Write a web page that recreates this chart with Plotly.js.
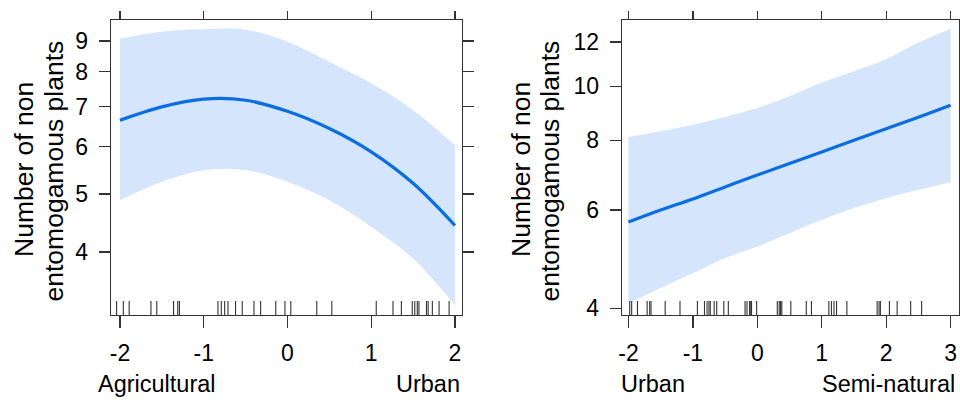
<!DOCTYPE html>
<html><head><meta charset="utf-8">
<script src="https://cdn.plot.ly/plotly-3.0.1.min.js"></script>
<style>html,body{margin:0;padding:0;background:#fff}#plot{width:960px;height:401px}</style>
</head><body><div id="plot"></div>
<script>
// ---- Left panel: Agricultural -> Urban gradient ----
const leftX     = [-2, -1.5, -1, -0.5, 0, 0.5, 1, 1.5, 2];
const leftFit   = [6.64, 6.99, 7.20, 7.17, 6.87, 6.43, 5.88, 5.21, 4.43];
const leftUpper = [9.09, 9.33, 9.42, 9.40, 8.98, 8.31, 7.65, 6.90, 6.03];
const leftLower = [4.88, 5.24, 5.48, 5.48, 5.24, 4.88, 4.41, 3.90, 3.26];
const leftRug = [-2.04,-1.96,-1.89,-1.63,-1.56,-1.36,-1.31,-1.29,-0.83,-0.79,-0.75,-0.71,-0.62,-0.54,-0.40,-0.32,-0.14,-0.03,0.04,0.35,0.53,1.06,1.26,1.36,1.49,1.52,1.55,1.57,1.66,1.68,1.73,1.81,1.93];
const leftXTicks = [-2, -1, 0, 1, 2];
const leftXTickText = ["-2", "-1", "0", "1", "2"];
const leftYTicks = [4, 5, 6, 7, 8, 9];

// ---- Right panel: Urban -> Semi-natural gradient ----
const rightX     = [-2, -1.5, -1, -0.5, 0, 0.5, 1, 1.5, 2, 2.5, 3];
const rightFit   = [5.71, 6.00, 6.28, 6.60, 6.93, 7.27, 7.62, 8.00, 8.39, 8.80, 9.24];
const rightUpper = [8.11, 8.30, 8.53, 8.81, 9.14, 9.59, 10.15, 10.64, 11.17, 11.97, 12.68];
const rightLower = [4.08, 4.35, 4.62, 4.92, 5.16, 5.45, 5.76, 6.05, 6.30, 6.52, 6.73];
const rightRug = [-1.98,-1.95,-1.86,-1.71,-1.67,-1.65,-1.43,-1.20,-0.93,-0.82,-0.78,-0.75,-0.73,-0.67,-0.63,-0.52,-0.45,-0.19,-0.16,-0.12,-0.11,-0.09,-0.01,0.31,0.34,0.36,0.38,0.52,0.76,0.84,1.11,1.15,1.19,1.23,1.39,1.86,1.89,1.91,2.05,2.17,2.38,2.55];
const rightXTicks = [-2, -1, 0, 1, 2, 3];
const rightXTickText = ["-2", "-1", "0", "1", "2", "3"];
const rightYTicks = [4, 6, 8, 10, 12];

const yTitle1 = "Number of non";
const yTitle2 = "entomogamous plants";
const leftLabels = ["Agricultural", "Urban"];
const rightLabels = ["Urban", "Semi-natural"];

const W = 960, H = 401, T = 20, B = 315;
const LINE = "#0a6ee0", BAND = "rgb(213,229,251)", AX = "#333333";
const FONT = "Liberation Sans, Arial, sans-serif";
const px = v => v / W;
const py = v => (B - v) / (B - T);

function band(x, lo, hi, xa, ya) {
  return [
    {x: x, y: lo, xaxis: xa, yaxis: ya, mode: "lines", line: {width: 0, shape: "spline", color: BAND}, hoverinfo: "skip", showlegend: false},
    {x: x, y: hi, xaxis: xa, yaxis: ya, mode: "lines", fill: "tonexty", fillcolor: BAND, line: {width: 0, shape: "spline", color: BAND}, hoverinfo: "skip", showlegend: false}
  ];
}
const data = [
  ...band(leftX, leftLower, leftUpper, "x", "y"),
  {x: leftX, y: leftFit, xaxis: "x", yaxis: "y", mode: "lines", line: {color: LINE, width: 3.2, shape: "spline"}, showlegend: false},
  ...band(rightX, rightLower, rightUpper, "x2", "y2"),
  {x: rightX, y: rightFit, xaxis: "x2", yaxis: "y2", mode: "lines", line: {color: LINE, width: 3.2, shape: "spline"}, showlegend: false},
  // invisible carriers so the top tick axes are drawn
  {x: leftX, y: leftFit, xaxis: "x3", yaxis: "y", mode: "lines", opacity: 0, line: {width: 0}, hoverinfo: "skip", showlegend: false},
  {x: rightX, y: rightFit, xaxis: "x4", yaxis: "y2", mode: "lines", opacity: 0, line: {width: 0}, hoverinfo: "skip", showlegend: false}
];

const shapes = [];
leftRug.forEach(v => shapes.push({type: "line", xref: "x", yref: "paper", x0: v, x1: v, y0: 0, y1: 14/(B-T), line: {color: AX, width: 1.1}}));
rightRug.forEach(v => shapes.push({type: "line", xref: "x2", yref: "paper", x0: v, x1: v, y0: 0, y1: 14/(B-T), line: {color: AX, width: 1.1}}));

const tickFont = {family: FONT, size: 23, color: "#000"};
const baseX = {showgrid: false, zeroline: false, showline: true, mirror: true, linecolor: AX, linewidth: 1.3,
  ticks: "outside", ticklen: 12, tickwidth: 1.3, tickcolor: AX, tickfont: tickFont, tickmode: "array", ticklabelstandoff: 5};
const baseY = {showgrid: false, zeroline: false, showline: true, mirror: "ticks", linecolor: AX, linewidth: 1.3,
  ticks: "outside", ticklen: 11, tickwidth: 1.3, tickcolor: AX, tickfont: tickFont, type: "log", tickmode: "array", ticklabelstandoff: 6};
const topX = {showgrid: false, zeroline: false, showline: false, ticks: "outside", ticklen: 8, tickwidth: 1.3, tickcolor: AX,
  showticklabels: false, side: "top", tickmode: "array"};

const lxr = [-2.107, 2.084], rxr = [-2.10, 3.13];
const layout = {
  width: W, height: H, margin: {l: 0, r: 0, t: T, b: H - B}, paper_bgcolor: "#fff", plot_bgcolor: "#fff",
  showlegend: false,
  xaxis: {...baseX, domain: [px(111), px(462)], range: lxr, tickvals: leftXTicks, ticktext: leftXTickText, anchor: "y"},
  yaxis: {...baseY, domain: [0, 1], range: [Math.log10(3.14), Math.log10(9.76)], tickvals: leftYTicks, ticktext: leftYTicks.map(String), anchor: "x"},
  xaxis2: {...baseX, domain: [px(622), px(959)], range: rxr, tickvals: rightXTicks, ticktext: rightXTickText, anchor: "y2"},
  yaxis2: {...baseY, domain: [0, 1], range: [Math.log10(3.89), Math.log10(13.14)], tickvals: rightYTicks, ticktext: rightYTicks.map(String), anchor: "x2"},
  xaxis3: {...topX, overlaying: "x", domain: [px(111), px(462)], range: lxr, tickvals: leftXTicks, anchor: "y"},
  xaxis4: {...topX, overlaying: "x2", domain: [px(622), px(959)], range: rxr, tickvals: rightXTicks, anchor: "y2"},
  shapes: shapes,
  annotations: [
    {text: yTitle1, xref: "paper", yref: "paper", x: px(24), y: py(170), textangle: -90, showarrow: false, xanchor: "center", yanchor: "middle", font: {family: FONT, size: 26.5, color: "#000"}},
    {text: yTitle2, xref: "paper", yref: "paper", x: px(53.5), y: py(171), textangle: -90, showarrow: false, xanchor: "center", yanchor: "middle", font: {family: FONT, size: 26.5, color: "#000"}},
    {text: yTitle1, xref: "paper", yref: "paper", x: px(521), y: py(170), textangle: -90, showarrow: false, xanchor: "center", yanchor: "middle", font: {family: FONT, size: 26.5, color: "#000"}},
    {text: yTitle2, xref: "paper", yref: "paper", x: px(549.5), y: py(171), textangle: -90, showarrow: false, xanchor: "center", yanchor: "middle", font: {family: FONT, size: 26.5, color: "#000"}},
    {text: leftLabels[0], xref: "paper", yref: "paper", x: px(96), y: py(384), showarrow: false, xanchor: "left", yanchor: "middle", font: {family: FONT, size: 23.5, color: "#000"}},
    {text: leftLabels[1], xref: "paper", yref: "paper", x: px(462), y: py(384), showarrow: false, xanchor: "right", yanchor: "middle", font: {family: FONT, size: 23.5, color: "#000"}},
    {text: rightLabels[0], xref: "paper", yref: "paper", x: px(619), y: py(384), showarrow: false, xanchor: "left", yanchor: "middle", font: {family: FONT, size: 23.5, color: "#000"}},
    {text: rightLabels[1], xref: "paper", yref: "paper", x: px(957), y: py(384), showarrow: false, xanchor: "right", yanchor: "middle", font: {family: FONT, size: 23.5, color: "#000"}}
  ]
};
Plotly.newPlot("plot", data, layout, {displayModeBar: false, staticPlot: true});
</script></body></html>
